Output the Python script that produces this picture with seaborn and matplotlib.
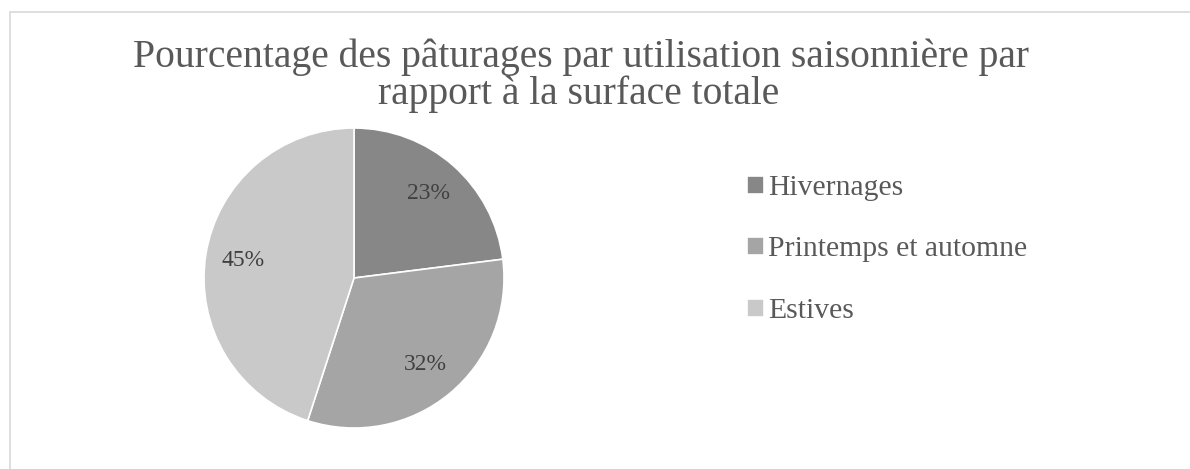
import matplotlib
matplotlib.use("Agg")
import matplotlib.pyplot as plt
import seaborn as sns
from matplotlib.patches import Rectangle

# donnees
categories = ["Hivernages", "Printemps et automne", "Estives"]
pourcentages = [23, 32, 45]
couleurs = ["#878787", "#a5a5a5", "#c9c9c9"]
titre_l1 = "Pourcentage des pâturages par utilisation saisonnière par"
titre_l2 = "rapport à la surface totale"

sns.set_theme(style="white")
plt.rcParams['font.family'] = ['Liberation Serif', 'DejaVu Serif']
texte = "#595959"

W, H = 1190, 469
fig = plt.figure(figsize=(W / 100, H / 100), dpi=100)
fig.patch.set_facecolor("white")

# cadre (seuls les bords haut et gauche sont visibles)
fig.add_artist(Rectangle((10 / W, -0.05), 1.05, (H - 12) / H + 0.05,
                         transform=fig.transFigure, fill=False,
                         edgecolor="#d9d9d9", linewidth=1.2))

# titre sur deux lignes
fig.text(581 / W, 1 - 67 / H, titre_l1, ha="center", va="baseline",
         fontsize=28.5, color=texte)
fig.text(579 / W, 1 - 104 / H, titre_l2, ha="center", va="baseline",
         fontsize=28.5, color=texte)

ax = fig.add_axes([(354 - 150) / W, (H - 428) / H, 300 / W, 300 / H])
wedges, textes, autotextes = ax.pie(
    pourcentages, colors=couleurs, startangle=90, counterclock=False,
    autopct="%1.0f%%", pctdistance=0.75,
    wedgeprops=dict(edgecolor="white", linewidth=1.2),
    textprops=dict(color="#404040", fontsize=17))
ax.set_xlim(-1, 1)
ax.set_ylim(-1, 1)
ax.set_aspect("equal")

leg = fig.legend(wedges, categories, loc="upper left",
                 bbox_to_anchor=(747 / W, 1 - 175 / H), frameon=False,
                 fontsize=21.3, handlelength=0.56, handleheight=0.56,
                 handletextpad=0.15, labelspacing=1.2,
                 borderpad=0, borderaxespad=0)
for t in leg.get_texts():
    t.set_color(texte)

fig.savefig("out.png", dpi=100, facecolor="white")
